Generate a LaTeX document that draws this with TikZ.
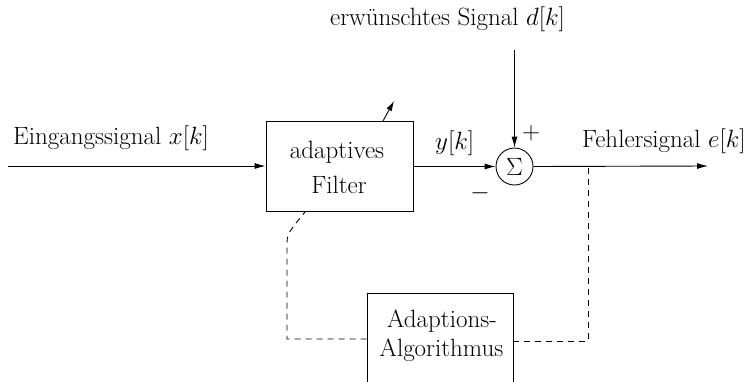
\RequirePackage{fix-cm}
\documentclass[tikz,border=0pt]{standalone}
\usepackage{fontspec}
\usetikzlibrary{arrows.meta}
\begin{document}
\begin{tikzpicture}[x=1pt,y=-1pt,
  every node/.style={font=\fontsize{25}{30}\selectfont, inner sep=0pt},
  lbl/.style={anchor=base west},
  blockbox/.style={draw, line width=0.9pt, align=center},
  sig/.style={line width=0.9pt, -{Latex[length=11pt,width=6pt]}},
  fb/.style={line width=0.9pt, dash pattern=on 6pt off 5pt}]
\useasboundingbox (0,0) rectangle (754,381);
\clip (0,0) rectangle (754,381);
% blocks
\node[blockbox, minimum width=147pt, minimum height=90pt] (filter) at (339.5,166) {};
\node[anchor=base] (tf1) at (337,158) {adaptives};
\node[anchor=base] (tf2) at (339,193) {Filter};
\node[draw, circle, line width=0.9pt, minimum size=37pt] (sum) at (514.5,166.5) {$\Sigma$};
\node[blockbox, minimum width=146pt, minimum height=95pt] (algo) at (440,340.5) {};
\node[anchor=base] (ta1) at (442,327) {Adaptions-};
\node[anchor=base] (ta2) at (441.5,356) {Algorithmus};
% labels
\node[lbl] (lin) at (13,144) {Eingangssignal $x[k]$};
\node[lbl] (ly) at (435,149) {$y[k]$};
\node[lbl] (ld) at (330,25) {erw\"unschtes Signal $d[k]$};
\node (lplus) at (531,133) {$+$};
\node (lminus) at (480,193) {$-$};
\node[lbl] (lout) at (582,147) {Fehlersignal $e[k]$};
% coordinates
\coordinate (in) at (8,166);
\coordinate (out) at (708,166);
\coordinate (dtop) at (514.5,50);
\coordinate (tap) at (588,166);
\coordinate (fbot) at (305,212);
\coordinate (lcorner) at (287,339);
\coordinate (lbend) at (287,242);
\coordinate (rcorner) at (588,341);
\coordinate (a1) at (383,121);
\coordinate (a2) at (394,101);
% signal connectors
\draw[sig] (in) -- (filter.west |- in);
\draw[sig] (filter.east |- sum.west) -- (sum.west);
\draw[sig] (dtop) -- (sum.north);
\draw[sig] (sum.east) -- (out);
% feedback
\draw[fb] (algo.west |- lcorner) -- (lcorner) -- (lbend) .. controls (287,232) and (294,226) .. (fbot);
\draw[fb] (algo.east |- rcorner) -- (rcorner) -- (tap);
% adaptation arrow
\draw[line width=0.9pt, -{Latex[length=10pt,width=6pt]}] (a1) -- (a2);
\end{tikzpicture}
\end{document}
